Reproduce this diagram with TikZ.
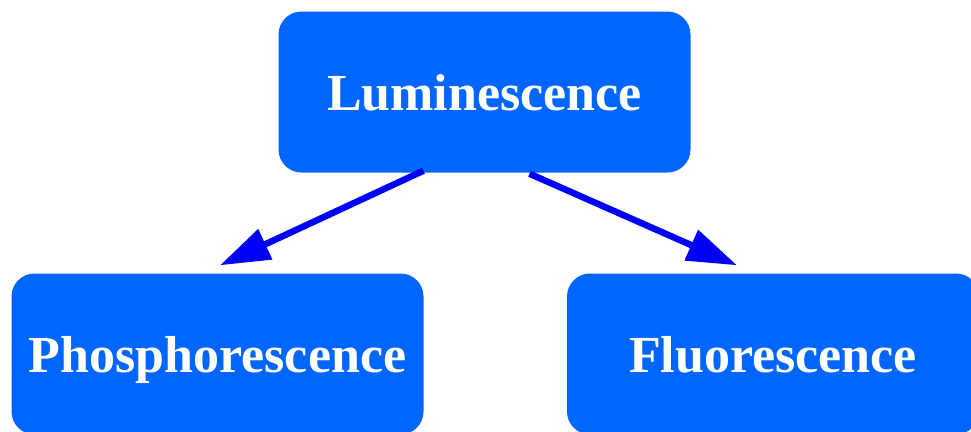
\documentclass[tikz,border=0pt]{standalone}
\usepackage{fontspec}
\setmainfont{Liberation Serif}
\usepackage{xcolor}
\usepackage{tikz}
\usetikzlibrary{arrows.meta, positioning, calc}
\definecolor{boxblue}{RGB}{0, 102, 255}
\definecolor{arrowblue}{RGB}{0, 0, 250}

\begin{document}
\begin{tikzpicture}[x=1pt, y=1pt,
  term/.style={fill=boxblue, rounded corners=23pt, text=white, font=\fontsize{52}{60}\selectfont\bfseries, minimum width=412pt, minimum height=161pt, inner sep=0pt, text height=36pt, text depth=0pt},
  link/.style={-{Triangle[length=50pt, width=32pt]}, line width=6.5pt, arrowblue}]

  \path[use as bounding box] (0,0) rectangle (971,-431);

  \node[term] (lum) at (484.5,-92) {Luminescence};
  \node[term, below=100.6pt of lum, xshift=-267pt] (phos) {Phosphorescence};
  \node[term, below=100.6pt of lum, xshift=288.5pt] (fluo) {Fluorescence};

  \draw[link] ($(lum.south)+(-61,2)$) -- ($(phos.north)+(2.5,8)$);
  \draw[link] ($(lum.south)+(45,-1)$) -- ($(fluo.north)+(-36,8)$);
\end{tikzpicture}
\end{document}
